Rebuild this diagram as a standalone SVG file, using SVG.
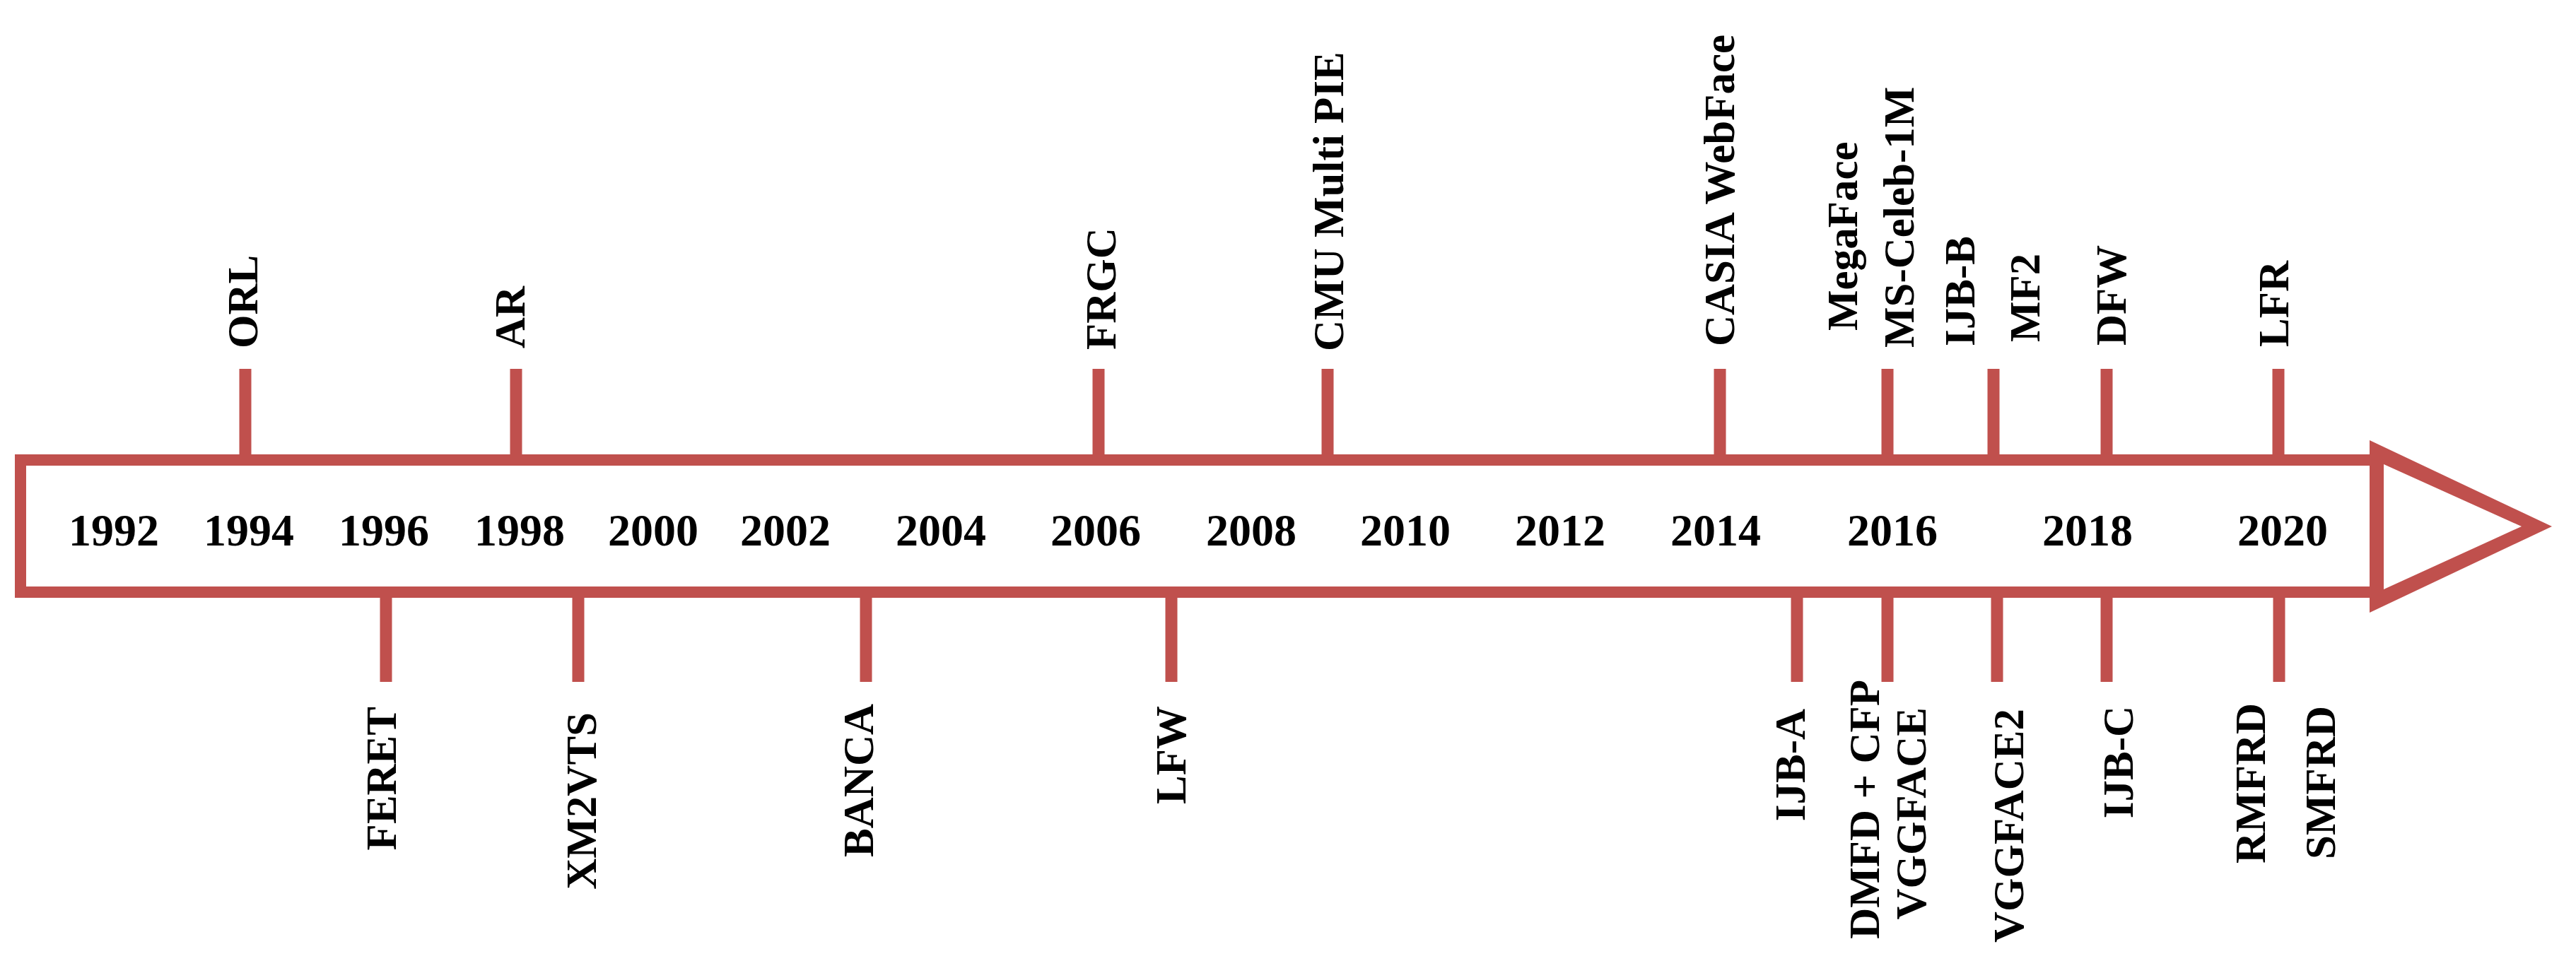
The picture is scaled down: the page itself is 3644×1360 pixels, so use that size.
<svg xmlns="http://www.w3.org/2000/svg" width="3644" height="1360" viewBox="0 0 3644 1360">
<style>
.tick{stroke:#C0504D;stroke-width:17;fill:none}
.yr{font-family:"Liberation Serif","Times New Roman",serif;font-weight:bold;font-size:64px;fill:#000;text-anchor:middle}
.lbl{font-family:"Liberation Serif","Times New Roman",serif;font-weight:bold;font-size:61px;fill:#000}
.up{text-anchor:start}
.dn{text-anchor:end}
</style>
<rect width="3644" height="1360" fill="#fff"/>
<g id="timeline-arrow">
<rect x="29" y="651" width="3333" height="187" fill="#fff" stroke="#C0504D" stroke-width="16"/>
<path d="M3352,623 L3610,745 L3352,867 Z M3372,657 L3567,745 L3372,834 Z" fill="#C0504D" fill-rule="evenodd"/>
</g>
<g id="connectors">
<line class="tick" x1="347" y1="522" x2="347" y2="651"/>
<line class="tick" x1="730" y1="522" x2="730" y2="651"/>
<line class="tick" x1="1554" y1="522" x2="1554" y2="651"/>
<line class="tick" x1="1878" y1="522" x2="1878" y2="651"/>
<line class="tick" x1="2433" y1="522" x2="2433" y2="651"/>
<line class="tick" x1="2670" y1="522" x2="2670" y2="651"/>
<line class="tick" x1="2820" y1="522" x2="2820" y2="651"/>
<line class="tick" x1="2980" y1="522" x2="2980" y2="651"/>
<line class="tick" x1="3223" y1="522" x2="3223" y2="651"/>
<line class="tick" x1="546" y1="838" x2="546" y2="965"/>
<line class="tick" x1="818" y1="838" x2="818" y2="965"/>
<line class="tick" x1="1225" y1="838" x2="1225" y2="965"/>
<line class="tick" x1="1657" y1="838" x2="1657" y2="965"/>
<line class="tick" x1="2542" y1="838" x2="2542" y2="965"/>
<line class="tick" x1="2670" y1="838" x2="2670" y2="965"/>
<line class="tick" x1="2825" y1="838" x2="2825" y2="965"/>
<line class="tick" x1="2980" y1="838" x2="2980" y2="965"/>
<line class="tick" x1="3224" y1="838" x2="3224" y2="965"/>
</g>
<g id="years">
<text class="yr" x="161" y="772">1992</text>
<text class="yr" x="352" y="772">1994</text>
<text class="yr" x="543" y="772">1996</text>
<text class="yr" x="735" y="772">1998</text>
<text class="yr" x="924" y="772">2000</text>
<text class="yr" x="1111" y="772">2002</text>
<text class="yr" x="1331" y="772">2004</text>
<text class="yr" x="1550" y="772">2006</text>
<text class="yr" x="1770" y="772">2008</text>
<text class="yr" x="1988" y="772">2010</text>
<text class="yr" x="2207" y="772">2012</text>
<text class="yr" x="2427" y="772">2014</text>
<text class="yr" x="2677" y="772">2016</text>
<text class="yr" x="2953" y="772">2018</text>
<text class="yr" x="3229" y="772">2020</text>
</g>
<g id="node-orl"><text class="lbl up" transform="translate(364,493) rotate(-90)">ORL</text></g>
<g id="node-ar"><text class="lbl up" transform="translate(742,493) rotate(-90)">AR</text></g>
<g id="node-frgc"><text class="lbl up" transform="translate(1578,495) rotate(-90)">FRGC</text></g>
<g id="node-cmu"><text class="lbl up" transform="translate(1900,497) rotate(-90)">CMU Multi PIE</text></g>
<g id="node-casia"><text class="lbl up" transform="translate(2453,490) rotate(-90)">CASIA WebFace</text></g>
<g id="node-megaface"><text class="lbl up" transform="translate(2627,468) rotate(-90)">MegaFace</text></g>
<g id="node-msceleb"><text class="lbl up" transform="translate(2707,492) rotate(-90)">MS-Celeb-1M</text></g>
<g id="node-ijbb"><text class="lbl up" transform="translate(2793,490) rotate(-90)">IJB-B</text></g>
<g id="node-mf2"><text class="lbl up" transform="translate(2885,484) rotate(-90)">MF2</text></g>
<g id="node-dfw"><text class="lbl up" transform="translate(3007,489) rotate(-90)">DFW</text></g>
<g id="node-lfr"><text class="lbl up" transform="translate(3237,491) rotate(-90)">LFR</text></g>
<g id="node-feret"><text class="lbl dn" transform="translate(560,1000) rotate(-90)">FERET</text></g>
<g id="node-xm2vts"><text class="lbl dn" transform="translate(843,1008) rotate(-90)">XM2VTS</text></g>
<g id="node-banca"><text class="lbl dn" transform="translate(1235,996) rotate(-90)">BANCA</text></g>
<g id="node-lfw"><text class="lbl dn" transform="translate(1677,999) rotate(-90)">LFW</text></g>
<g id="node-ijba"><text class="lbl dn" transform="translate(2553,1003) rotate(-90)">IJB-A</text></g>
<g id="node-dmfd"><text class="lbl dn" transform="translate(2658,962) rotate(-90)">DMFD + CFP</text></g>
<g id="node-vggface"><text class="lbl dn" transform="translate(2724,1001) rotate(-90)">VGGFACE</text></g>
<g id="node-vggface2"><text class="lbl dn" transform="translate(2862,1003) rotate(-90)">VGGFACE2</text></g>
<g id="node-ijbc"><text class="lbl dn" transform="translate(3017,999) rotate(-90)">IJB-C</text></g>
<g id="node-rmfrd"><text class="lbl dn" transform="translate(3204,995) rotate(-90)">RMFRD</text></g>
<g id="node-smfrd"><text class="lbl dn" transform="translate(3303,999) rotate(-90)">SMFRD</text></g>
</svg>
